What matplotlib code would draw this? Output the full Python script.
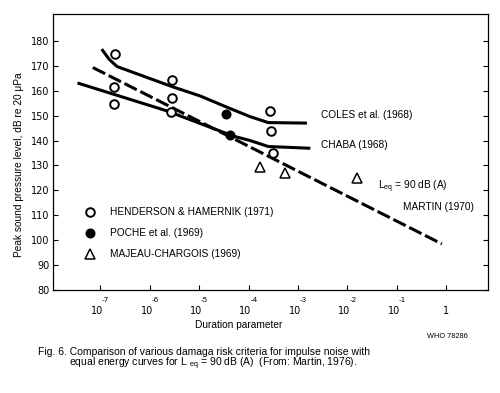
#------------------------------------------------------------------------------
#
# Damage risk criteria for impulse noise vs. equal energy curve (Martin, 1976)
#
#------------------------------------------------------------------------------

import matplotlib as mpl
import matplotlib.pyplot as plt

import numpy as np

# x values are log10 of the duration parameter
coles_x = [-6.97, -6.82, -6.66, -6.19, -5.54, -4.98, -4.44, -3.97, -3.60, -2.82]
coles_y = [176.7, 172.6, 169.7, 166.3, 161.6, 157.9, 153.4, 149.6, 147.2, 147.0]

chaba_x = [-7.46, -5.65, -4.31, -3.97, -3.60, -2.75]
chaba_y = [163.1, 151.9, 141.8, 140.0, 137.6, 136.9]

martin_x = [-7.15, -0.09]
martin_y = [169.3, 98.5]

henderson_x = [-6.70, -6.73, -6.73, -5.54, -5.54, -5.56, -3.56, -3.55, -3.50]
henderson_y = [174.8, 161.6, 154.6, 164.3, 157.2, 151.6, 152.0, 144.0, 134.9]

poche_x = [-4.45, -4.37]
poche_y = [150.7, 142.2]

majeau_x = [-3.77, -3.27, -1.81]
majeau_y = [129.5, 126.9, 124.9]

x_exponents = [-7, -6, -5, -4, -3, -2, -1, 0]
y_ticks = list(range(80, 190, 10))

plt.rcParams['font.family'] = ['Liberation Sans', 'DejaVu Sans']
plt.rcParams['mathtext.fontset'] = 'custom'
plt.rcParams['mathtext.rm'] = 'Liberation Sans'
plt.rcParams['font.size'] = 7.3

NUM_FONT = 'DejaVu Sans'   # the scanned digits are wide, DejaVu fits them better

#------------------------------------------------------------------------------
def main() -> None:
    fig = plt.figure(figsize=(5.0, 3.93), dpi=100)
    ax = fig.add_axes([0.1066, 0.2621, 0.8700, 0.7023])

    # Criteria curves
    ax.plot(coles_x, coles_y, '-', color='black', linewidth=2.2, solid_capstyle='butt')
    ax.plot(chaba_x, chaba_y, '-', color='black', linewidth=2.2, solid_capstyle='butt')
    ax.plot(martin_x, martin_y, color='black', linewidth=2.2,
            linestyle=(0, (4.5, 1.3)), dash_capstyle='butt')

    # Measured points
    ax.plot(henderson_x, henderson_y, 'o', ms=6.2, mfc='white', mec='black', mew=1.4,
            linestyle='none', label='HENDERSON & HAMERNIK (1971)')
    ax.plot(poche_x, poche_y, 'o', ms=6.2, mfc='black', mec='black',
            linestyle='none', label='POCHE et al. (1969)')
    ax.plot(majeau_x, majeau_y, '^', ms=6.8, mfc='white', mec='black', mew=1.1,
            linestyle='none', label='MAJEAU-CHARGOIS (1969)')

    # Curve labels
    ax.text(-2.54, 150.3, 'COLES et al. (1968)', va='center', ha='left')
    ax.text(-2.54, 138.2, 'CHABA (1968)', va='center', ha='left')
    ax.text(-1.39, 121.4, 'L$_{\\rm eq}$ = 90 dB (A)', va='center', ha='left')
    ax.text(-0.88, 113.5, 'MARTIN (1970)', va='center', ha='left')

    ax.legend(loc='upper left', bbox_to_anchor=(0.073, 0.300), frameon=False,
              borderpad=0, borderaxespad=0, handlelength=1.0,
              handletextpad=1.5, labelspacing=1.1, fontsize=7.3)

    ax.set_xlim(-7.95, 0.85)
    ax.set_ylim(80, 190.8)
    ax.set_xticks(x_exponents)
    ax.set_xticklabels([''] * len(x_exponents))
    ax.set_yticks(y_ticks)
    ax.tick_params(axis='both', direction='in', length=3.5, width=0.8, pad=3)
    ax.tick_params(axis='y', right=True, labelright=False,
                   labelsize=7, labelfontfamily=NUM_FONT)
    for spine in ax.spines.values():
        spine.set_linewidth(0.9)

    # Tick labels drawn as "10" with the exponent above and to the right
    for e in x_exponents:
        if e == 0:
            ax.annotate('1', xy=(e, 0), xycoords=('data', 'axes fraction'),
                        xytext=(-0.5, -15), textcoords='offset points',
                        ha='center', va='center', fontsize=7, family=NUM_FONT)
            continue
        ax.annotate('10', xy=(e, 0), xycoords=('data', 'axes fraction'),
                    xytext=(-2.2, -15), textcoords='offset points',
                    ha='center', va='center', fontsize=7, family=NUM_FONT)
        ax.annotate(str(e), xy=(e, 0), xycoords=('data', 'axes fraction'),
                    xytext=(4.0, -7.4), textcoords='offset points',
                    ha='center', va='center', fontsize=5.3, family=NUM_FONT)

    ax.set_ylabel('Peak sound pressure level, dB re 20 \u03bcPa', va='center')
    ax.yaxis.set_label_coords(-0.079, 0.453)
    ax.set_xlabel('Duration parameter', va='center')
    ax.xaxis.set_label_coords(0.427, -0.127)

    fig.text(0.854, 0.1425, 'WHO 78286', fontsize=5.3, va='center')
    fig.text(0.075, 0.1055,
             'Fig. 6. Comparison of various damaga risk criteria for impulse noise with',
             va='center', fontsize=7.5)
    fig.text(0.138, 0.0735,
             'equal energy curves for L $_{\\rm eq}$ = 90 dB (A)  (From: Martin, 1976).',
             va='center', fontsize=7.5)

    fig.savefig('out.png', dpi=100)

#------------------------------------------------------------------------------
# Programme entry point
#------------------------------------------------------------------------------
if __name__ == '__main__':
    main()
